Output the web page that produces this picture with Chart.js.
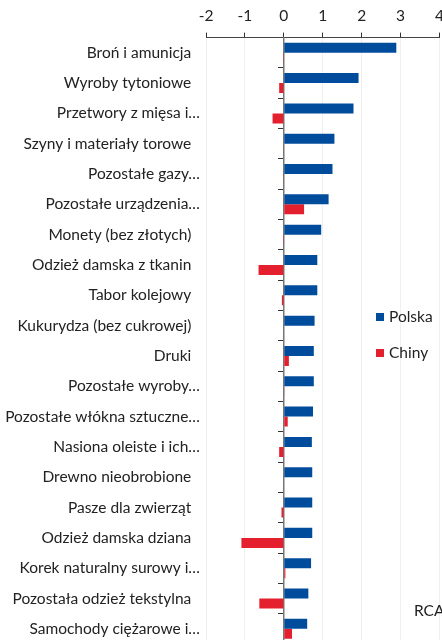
<!DOCTYPE html>
<html lang="pl">
<head>
  <meta charset="UTF-8">
  <title>RCA Polska vs Chiny</title>
  <script src="https://cdn.jsdelivr.net/npm/chart.js"></script>
  <style>
    html, body {
      margin: 0;
      padding: 0;
      background: #fff;
      overflow: hidden;
      font-family: Lato, sans-serif;
    }
    #wrap {
      position: relative;
      width: 451px;
      height: 644px;
    }
    #legend {
      position: absolute;
      left: 376px;
      top: 305px;
      font-size: 15.5px;
      color: #222;
    }
    #legend div {
      height: 36px;
      line-height: 22px;
      white-space: nowrap;
    }
    #legend span {
      display: inline-block;
      width: 8px;
      height: 8px;
      margin-right: 5px;
      vertical-align: 1px;
    }
    #note {
      position: absolute;
      left: 414px;
      top: 601px;
      font-size: 15.5px;
      color: #222;
    }
  </style>
</head>
<body>
  <div id="wrap">
    <canvas id="rcaChart" width="451" height="644"></canvas>
    <div id="legend"></div>
    <div id="note">RCA</div>
  </div>

  <script>
    const categories = [
      "Broń i amunicja",
      "Wyroby tytoniowe",
      "Przetwory z mięsa i…",
      "Szyny i materiały torowe",
      "Pozostałe gazy…",
      "Pozostałe urządzenia…",
      "Monety (bez złotych)",
      "Odzież damska z tkanin",
      "Tabor kolejowy",
      "Kukurydza (bez cukrowej)",
      "Druki",
      "Pozostałe wyroby…",
      "Pozostałe włókna sztuczne…",
      "Nasiona oleiste i ich…",
      "Drewno nieobrobione",
      "Pasze dla zwierząt",
      "Odzież damska dziana",
      "Korek naturalny surowy i…",
      "Pozostała odzież tekstylna",
      "Samochody ciężarowe i…"
    ];
    const polska = [2.89, 1.92, 1.79, 1.30, 1.25, 1.15, 0.96, 0.86, 0.86, 0.79,
                    0.77, 0.77, 0.75, 0.72, 0.73, 0.73, 0.73, 0.70, 0.63, 0.60];
    const chiny = [-0.02, -0.12, -0.29, -0.01, -0.01, 0.52, -0.02, -0.65, -0.05, 0.00,
                   0.13, 0.01, 0.10, -0.12, 0.00, -0.06, -1.09, 0.04, -0.63, 0.21];
    const xTicks = [-2, -1, 0, 1, 2, 3, 4];

    const blue = "#004c9c";
    const red = "#e4202f";
    const font = { family: "Lato", size: 15.5 };

    const ctx = document.getElementById("rcaChart").getContext("2d");
    const rcaChart = new Chart(ctx, {
      type: "bar",
      data: {
        labels: categories,
        datasets: [
          { label: "Polska", data: polska, backgroundColor: blue },
          { label: "Chiny", data: chiny, backgroundColor: red }
        ]
      },
      options: {
        indexAxis: "y",
        responsive: false,
        animation: false,
        categoryPercentage: 0.66,
        barPercentage: 1,
        layout: { padding: 0 },
        plugins: {
          legend: { display: false },
          tooltip: { enabled: false }
        },
        scales: {
          x: {
            position: "top",
            min: -2,
            max: 4,
            afterBuildTicks: s => { s.ticks = xTicks.map(v => ({ value: v })); },
            ticks: { font: font, color: "#222", padding: 7 },
            grid: { color: "#efefef", tickColor: "#333", tickLength: 5 },
            border: { color: "#444", width: 1 }
          },
          y: {
            position: "left",
            ticks: {
              font: font,
              color: "#222",
              padding: 6,
              // untruncated labels sit a little left of the ones ending with "…"
              callback: function (v) {
                const l = this.getLabelForValue(v);
                return l.endsWith("…") ? l : l + "\u2002\u200A";
              }
            },
            grid: { display: false, drawTicks: false },
            border: { display: false },
            afterFit: s => { s.width = 206; s.paddingTop = 0; s.paddingBottom = 0; }
          },
          y2: {
            type: "category",
            position: { x: 0 },
            ticks: { display: false },
            grid: { drawOnChartArea: false, offset: true, tickLength: 5, tickColor: "#333" },
            border: { color: "#777", width: 1.5 }
          }
        }
      }
    });

    const legend = document.getElementById("legend");
    rcaChart.data.datasets.forEach(ds => {
      const row = document.createElement("div");
      const sw = document.createElement("span");
      sw.style.background = ds.backgroundColor;
      row.appendChild(sw);
      row.appendChild(document.createTextNode(ds.label));
      legend.appendChild(row);
    });
  </script>
</body>
</html>
